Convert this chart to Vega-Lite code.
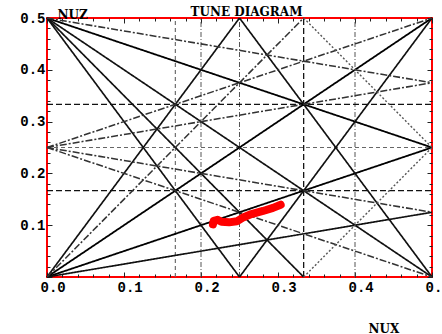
{
  "$schema": "https://vega.github.io/schema/vega-lite/v6.json",
  "width": 385,
  "height": 259,
  "autosize": {"type": "none"},
  "padding": {"left": 47, "top": 18, "right": 10, "bottom": 57},
  "background": "white",
  "title": {"text": "TUNE DIAGRAM", "font": "DejaVu Serif", "fontWeight": "bold", "fontSize": 12, "anchor": "middle", "offset": 0, "baseline": "alphabetic", "dx": 7, "dy": 20, "color": "black"},
  "config": {
    "view": {"stroke": "red", "strokeWidth": 2},
    "axis": {"grid": false, "domain": false, "tickColor": "#222", "tickWidth": 1, "labelFont": "Liberation Mono", "labelFontWeight": "bold", "labelFontSize": 14, "labelColor": "black", "labelFlush": false, "labelOverlap": false, "labelBound": false, "titleFont": "DejaVu Serif", "titleFontWeight": "bold", "titleFontSize": 12, "titleColor": "black"}
  },
  "datasets": {
    "lines": [
      {"name": "6nux=1", "cls": "dashedG", "x": 0.16667, "y": 0, "x2": 0.16667, "y2": 0.5},
      {"name": "5nux=1", "cls": "dashdotG", "x": 0.2, "y": 0, "x2": 0.2, "y2": 0.5},
      {"name": "4nux=1", "cls": "dashdotG", "x": 0.25, "y": 0, "x2": 0.25, "y2": 0.5},
      {"name": "3nux=1", "cls": "dashedK", "x": 0.33333, "y": 0, "x2": 0.33333, "y2": 0.5},
      {"name": "5nux=2", "cls": "dashdotG", "x": 0.4, "y": 0, "x2": 0.4, "y2": 0.5},
      {"name": "6nuz=1", "cls": "dashedK", "x": 0, "y": 0.16667, "x2": 0.5, "y2": 0.16667},
      {"name": "4nuz=1", "cls": "dashedG", "x": 0, "y": 0.25, "x2": 0.5, "y2": 0.25},
      {"name": "3nuz=1", "cls": "dashedK", "x": 0, "y": 0.33333, "x2": 0.5, "y2": 0.33333},
      {"name": "nux-nuz=0", "cls": "thick", "x": 0, "y": 0, "x2": 0.5, "y2": 0.5},
      {"name": "nux+2nuz=1", "cls": "thick", "x": 0, "y": 0.5, "x2": 0.5, "y2": 0.25},
      {"name": "nux-2nuz=0", "cls": "thick", "x": 0, "y": 0, "x2": 0.5, "y2": 0.25},
      {"name": "2nux+2nuz=1", "cls": "solid", "x": 0, "y": 0.5, "x2": 0.5, "y2": 0},
      {"name": "3nux+2nuz=1", "cls": "solid", "x": 0, "y": 0.5, "x2": 0.33333, "y2": 0},
      {"name": "4nux+2nuz=1", "cls": "solid", "x": 0, "y": 0.5, "x2": 0.25, "y2": 0},
      {"name": "4nux+2nuz=2", "cls": "solid", "x": 0.25, "y": 0.5, "x2": 0.5, "y2": 0},
      {"name": "4nux-2nuz=0", "cls": "solid", "x": 0, "y": 0, "x2": 0.25, "y2": 0.5},
      {"name": "4nux-2nuz=1", "cls": "solid", "x": 0.25, "y": 0, "x2": 0.5, "y2": 0.5},
      {"name": "nux-4nuz=0", "cls": "solid", "x": 0, "y": 0, "x2": 0.5, "y2": 0.125},
      {"name": "nux+4nuz=2", "cls": "dashdot", "x": 0, "y": 0.5, "x2": 0.5, "y2": 0.375},
      {"name": "nux+4nuz=1", "cls": "dashdot", "x": 0, "y": 0.25, "x2": 0.5, "y2": 0.125},
      {"name": "nux-4nuz=-1", "cls": "dashdot", "x": 0, "y": 0.25, "x2": 0.5, "y2": 0.375},
      {"name": "2nux+4nuz=1", "cls": "dashdot", "x": 0, "y": 0.25, "x2": 0.5, "y2": 0},
      {"name": "2nux-4nuz=-1", "cls": "dashdot", "x": 0, "y": 0.25, "x2": 0.5, "y2": 0.5},
      {"name": "3nux-2nuz=0", "cls": "dashdot", "x": 0, "y": 0, "x2": 0.33333, "y2": 0.5},
      {"name": "3nux+2nuz=2", "cls": "dotted", "x": 0.33333, "y": 0.5, "x2": 0.5, "y2": 0.25},
      {"name": "3nux-2nuz=1", "cls": "dotted", "x": 0.33333, "y": 0, "x2": 0.5, "y2": 0.25}
    ],
    "tunes": [
      {"i": 1, "nux": 0.2155, "nuz": 0.1015},
      {"i": 2, "nux": 0.2165, "nuz": 0.1085},
      {"i": 3, "nux": 0.2215, "nuz": 0.1105},
      {"i": 4, "nux": 0.2265, "nuz": 0.1065},
      {"i": 5, "nux": 0.2365, "nuz": 0.1055},
      {"i": 6, "nux": 0.2465, "nuz": 0.1075},
      {"i": 7, "nux": 0.2555, "nuz": 0.1155},
      {"i": 8, "nux": 0.2655, "nuz": 0.1215},
      {"i": 9, "nux": 0.2805, "nuz": 0.1275},
      {"i": 10, "nux": 0.2935, "nuz": 0.1335},
      {"i": 11, "nux": 0.3035, "nuz": 0.1395}
    ]
  },
  "layer": [
    {
      "data": {"name": "lines"},
      "mark": {"type": "rule"},
      "encoding": {
        "x": {"field": "x", "type": "quantitative", "scale": {"domain": [0, 0.5], "nice": false, "zero": false},
          "axis": {"orient": "bottom", "values": [0,0.02,0.04,0.06,0.08,0.1,0.12,0.14,0.16,0.18,0.2,0.22,0.24,0.26,0.28,0.3,0.32,0.34,0.36,0.38,0.4,0.42,0.44,0.46,0.48,0.5],
            "labelExpr": "abs(datum.value*10 - round(datum.value*10)) < 0.001 ? format(datum.value, '.1f') : ''",
            "labelAlign": "left", "labelOffset": -7, "labelPadding": 8, "labelBaseline": "top",
            "tickSize": {"condition": {"test": "abs(datum.value*10 - round(datum.value*10)) < 0.001", "value": -5}, "value": -3},
            "title": "NUX", "titleX": 321, "titleY": 55, "titleAlign": "left", "titleBaseline": "alphabetic", "titleAnchor": null}},
        "y": {"field": "y", "type": "quantitative", "scale": {"domain": [0, 0.5], "nice": false, "zero": false},
          "axis": {"orient": "left", "values": [0,0.02,0.04,0.06,0.08,0.1,0.12,0.14,0.16,0.18,0.2,0.22,0.24,0.26,0.28,0.3,0.32,0.34,0.36,0.38,0.4,0.42,0.44,0.46,0.48,0.5],
            "labelExpr": "(datum.value > 0.001 && abs(datum.value*10 - round(datum.value*10)) < 0.001) ? format(datum.value, '.1f') : ''",
            "labelPadding": 7,
            "tickSize": {"condition": {"test": "abs(datum.value*10 - round(datum.value*10)) < 0.001", "value": -5}, "value": -3},
            "title": "NUZ", "titleAngle": 0, "titleX": 10, "titleY": 0, "titleAlign": "left", "titleBaseline": "alphabetic", "titleAnchor": null}},
        "x2": {"field": "x2"},
        "y2": {"field": "y2"},
        "strokeDash": {"field": "cls", "type": "nominal", "legend": null,
          "scale": {"domain": ["thick", "solid", "dashdot", "dotted", "dashedK", "dashedG", "dashdotG"],
            "range": [[1, 0], [1, 0], [7, 2, 2, 2], [2, 2], [6, 3], [4, 3], [5, 2, 1, 2]]}},
        "strokeWidth": {"field": "cls", "type": "nominal", "legend": null,
          "scale": {"domain": ["thick", "solid", "dashdot", "dotted", "dashedK", "dashedG", "dashdotG"],
            "range": [1.8, 1, 0.9, 0.9, 1, 1, 1]}},
        "color": {"field": "cls", "type": "nominal", "legend": null,
          "scale": {"domain": ["thick", "solid", "dashdot", "dotted", "dashedK", "dashedG", "dashdotG"],
            "range": ["#000000", "#111111", "#333333", "#555555", "#111111", "#666666", "#555555"]}}
      }
    },
    {
      "data": {"name": "tunes"},
      "mark": {"type": "line", "color": "#ff0000", "strokeWidth": 8, "strokeCap": "round", "strokeJoin": "round"},
      "encoding": {
        "x": {"field": "nux", "type": "quantitative", "scale": {"domain": [0, 0.5], "nice": false, "zero": false},
          "axis": {"orient": "top", "values": [0,0.02,0.04,0.06,0.08,0.1,0.12,0.14,0.16,0.18,0.2,0.22,0.24,0.26,0.28,0.3,0.32,0.34,0.36,0.38,0.4,0.42,0.44,0.46,0.48,0.5], "labels": false, "title": null,
            "tickSize": {"condition": {"test": "abs(datum.value*10 - round(datum.value*10)) < 0.001", "value": -5}, "value": -3}}},
        "y": {"field": "nuz", "type": "quantitative", "scale": {"domain": [0, 0.5], "nice": false, "zero": false},
          "axis": {"orient": "right", "values": [0,0.02,0.04,0.06,0.08,0.1,0.12,0.14,0.16,0.18,0.2,0.22,0.24,0.26,0.28,0.3,0.32,0.34,0.36,0.38,0.4,0.42,0.44,0.46,0.48,0.5], "labels": false, "title": null,
            "tickSize": {"condition": {"test": "abs(datum.value*10 - round(datum.value*10)) < 0.001", "value": -5}, "value": -3}}},
        "order": {"field": "i", "type": "quantitative"}
      }
    }
  ],
  "resolve": {"axis": {"x": "independent", "y": "independent"}}
}
